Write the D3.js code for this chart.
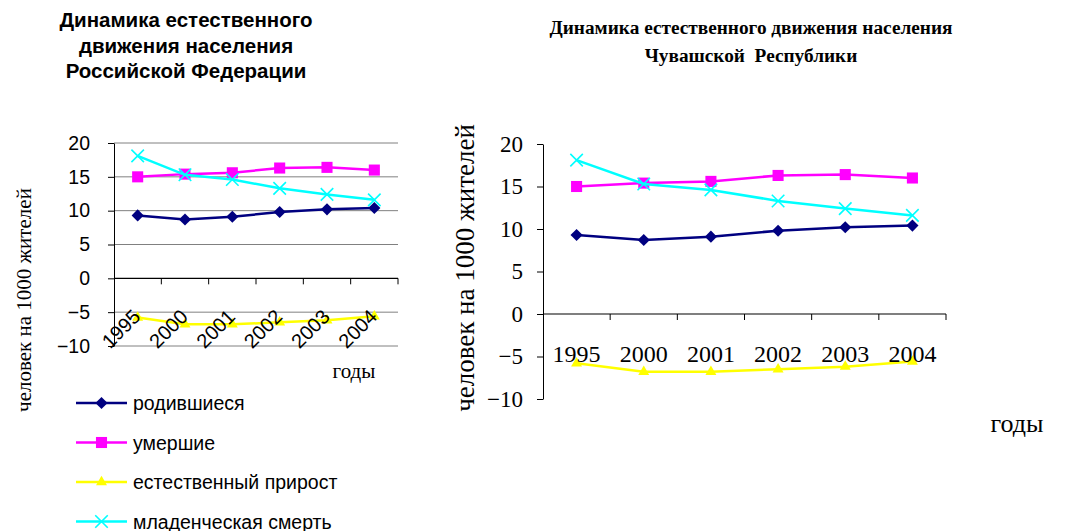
<!DOCTYPE html>
<html>
<head>
<meta charset="utf-8">
<script src="https://cdn.jsdelivr.net/npm/d3@7"></script>
<style>
  body { margin: 0; background: #fff; }
  svg { display: block; }
</style>
</head>
<body>
<div id="chart"></div>
<script>
// годы и показатели на 1000 жителей
var years = ["1995", "2000", "2001", "2002", "2003", "2004"];
var births = [9.3, 8.7, 9.1, 9.8, 10.2, 10.4];
var deaths = [15.0, 15.4, 15.6, 16.3, 16.4, 16.0];
var growth = [-5.8, -6.8, -6.8, -6.5, -6.2, -5.6];
var infant = [18.1, 15.3, 14.6, 13.3, 12.4, 11.6];
var yTicks = [20, 15, 10, 5, 0, -5, -10];

var seriesNames = ["родившиеся", "умершие", "естественный прирост", "младенческая смерть"];
var seriesValues = [births, deaths, growth, infant];
var seriesColors = ["#000080", "#ff00ff", "#ffff00", "#00ffff"];
var seriesMarks = ["diamond", "square", "triangle", "cross"];

var SANS = "'Liberation Sans', Arial, sans-serif";
var SERIF = "'Liberation Serif', 'Times New Roman', serif";

var svg = d3.select("#chart").append("svg")
  .attr("width", 1076)
  .attr("height", 531);

function marker(g, type, x, y, color, s) {
  if (type == "cross") {
    g.append("path")
      .attr("d", "M" + (x - s/2) + "," + (y - s/2) + "L" + (x + s/2) + "," + (y + s/2) +
                 "M" + (x - s/2) + "," + (y + s/2) + "L" + (x + s/2) + "," + (y - s/2))
      .attr("stroke", color).attr("stroke-width", 1.6).attr("fill", "none");
    return;
  }
  var sym = type == "diamond" ? d3.symbolDiamond2 : type == "square" ? d3.symbolSquare2 : d3.symbolTriangle2;
  // symbol size is area-ish; tuned by eye
  g.append("path")
    .attr("d", d3.symbol().type(sym).size(s * s * (type == "square" ? 1 : type == "triangle" ? 0.55 : 0.6))())
    .attr("transform", "translate(" + x + "," + y + ")")
    .attr("fill", color);
}

function drawChart(opt) {
  var g = svg.append("g");

  var x = d3.scaleBand().domain(years).range([opt.left, opt.right]);
  var y = d3.scaleLinear().domain([-10, 20]).range([opt.bottom, opt.top]);

  // сетка
  if (opt.grid) {
    g.selectAll(".grid").data(yTicks.filter(function(d) { return d != 0; }))
      .enter().append("line")
      .attr("x1", opt.left).attr("x2", opt.right)
      .attr("y1", function(d) { return y(d); })
      .attr("y2", function(d) { return y(d); })
      .attr("stroke", "#808080").attr("stroke-width", 1);
  }

  // ось Y
  var yAxis = g.append("g")
    .attr("transform", "translate(" + opt.left + ",0)")
    .call(d3.axisLeft(y).tickValues(yTicks).tickSize(6).tickPadding(opt.tickPad).tickSizeOuter(0));
  yAxis.select(".domain").attr("stroke", "#000");
  yAxis.selectAll(".tick line").attr("stroke", "#000");
  yAxis.selectAll("text")
    .attr("font-family", opt.font).attr("font-size", opt.tickFont).attr("fill", "#000");

  // ось X по нулю
  g.append("line")
    .attr("x1", opt.left).attr("x2", opt.right)
    .attr("y1", y(0)).attr("y2", y(0))
    .attr("stroke", "#000").attr("stroke-width", 1.2);
  g.selectAll(".xt").data(years)
    .enter().append("line")
    .attr("x1", function(d) { return x(d) + x.bandwidth(); })
    .attr("x2", function(d) { return x(d) + x.bandwidth(); })
    .attr("y1", y(0)).attr("y2", y(0) + 6)
    .attr("stroke", "#000");

  // линии
  var line = d3.line()
    .x(function(d, i) { return x(years[i]) + x.bandwidth() / 2; })
    .y(function(d) { return y(d); });

  seriesValues.forEach(function(vals, k) {
    g.append("path")
      .datum(vals)
      .attr("d", line)
      .attr("fill", "none")
      .attr("stroke", seriesColors[k])
      .attr("stroke-width", opt.lw);
    vals.forEach(function(v, i) {
      marker(g, seriesMarks[k], x(years[i]) + x.bandwidth() / 2, y(v), seriesColors[k], opt.ms);
    });
  });

  // подписи категорий
  if (opt.rotate) {
    g.selectAll(".xl").data(years)
      .enter().append("text")
      .attr("transform", function(d) {
        return "translate(" + (x(d) + x.bandwidth() / 2 + 4) + "," + opt.xLabelY + ") rotate(-45)";
      })
      .attr("text-anchor", "end")
      .attr("font-family", opt.font).attr("font-size", opt.xFont)
      .text(function(d) { return d; });
  } else {
    g.selectAll(".xl").data(years)
      .enter().append("text")
      .attr("x", function(d) { return x(d) + x.bandwidth() / 2; })
      .attr("y", opt.xLabelY)
      .attr("text-anchor", "middle")
      .attr("font-family", opt.font).attr("font-size", opt.xFont)
      .text(function(d) { return d; });
  }

  // заголовок
  opt.title.forEach(function(t, i) {
    g.append("text")
      .attr("x", opt.titleX).attr("y", opt.titleY + i * opt.titleStep)
      .attr("text-anchor", "middle")
      .attr("font-family", opt.titleFont).attr("font-weight", "bold")
      .attr("font-size", opt.titleSize)
      .attr("xml:space", "preserve")
      .text(t);
  });

  // подпись оси Y
  g.append("text")
    .attr("transform", "translate(" + opt.yTitleX + "," + opt.yTitleY + ") rotate(-90)")
    .attr("text-anchor", "middle")
    .attr("font-family", SERIF)
    .attr("font-size", opt.yTitleSize)
    .text("человек на 1000 жителей");

  // подпись оси X
  g.append("text")
    .attr("x", opt.xTitleX).attr("y", opt.xTitleY)
    .attr("text-anchor", "middle")
    .attr("font-family", SERIF)
    .attr("font-size", opt.xTitleSize)
    .text("годы");
}

drawChart({
  left: 114, right: 398, top: 143, bottom: 346,
  grid: true, rotate: true,
  font: SANS, tickFont: 19.5, xFont: 20, tickPad: 18,
  xLabelY: 318, lw: 2.5, ms: 12.5,
  title: ["Динамика естественного", "движения населения", "Российской Федерации"],
  titleX: 186, titleY: 27, titleStep: 25.5, titleSize: 20.5,
  titleFont: SANS,
  yTitleX: 31, yTitleY: 300, yTitleSize: 21,
  xTitleX: 354, xTitleY: 378, xTitleSize: 21
});

drawChart({
  left: 543, right: 946, top: 144, bottom: 399,
  grid: false, rotate: false,
  font: SERIF, tickFont: 23, xFont: 24, tickPad: 14,
  xLabelY: 362, lw: 2.5, ms: 12.5,
  title: ["Динамика естественного движения населения", "Чувашской  Республики"],
  titleX: 751, titleY: 34, titleStep: 28, titleSize: 19.3,
  titleFont: SERIF,
  yTitleX: 474, yTitleY: 268, yTitleSize: 27,
  xTitleX: 1017, xTitleY: 432, xTitleSize: 26
});

// легенда
var legend = svg.append("g");
seriesNames.forEach(function(name, k) {
  var ly = 403 + k * 39.5;
  legend.append("line")
    .attr("x1", 76).attr("x2", 127).attr("y1", ly).attr("y2", ly)
    .attr("stroke", seriesColors[k]).attr("stroke-width", 2.5);
  marker(legend, seriesMarks[k], 101.5, ly, seriesColors[k], 12.5);
  legend.append("text")
    .attr("x", 133).attr("y", ly + 7)
    .attr("font-family", SANS)
    .attr("font-size", 19.5)
    .text(name);
});
</script>
</body>
</html>
